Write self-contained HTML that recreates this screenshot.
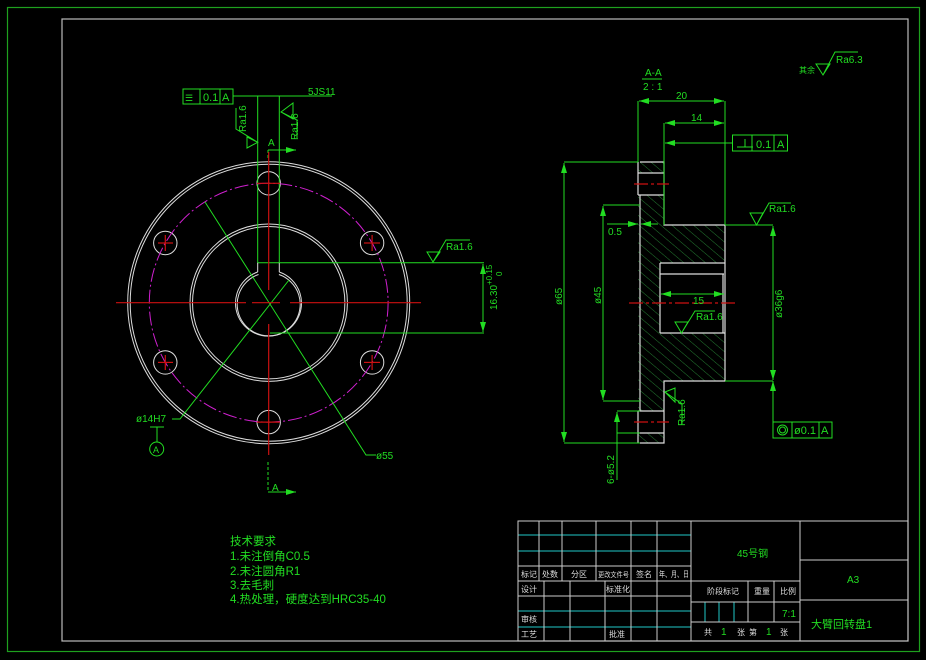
<!DOCTYPE html>
<html><head><meta charset="utf-8"><style>
html,body{margin:0;padding:0;background:#000;}
svg{display:block;}
text{font-family:"Liberation Sans","Noto Sans CJK SC",sans-serif;fill:#22dd22;}
</style></head><body>
<svg width="926" height="660" viewBox="0 0 926 660" xmlns="http://www.w3.org/2000/svg">
<defs>
<pattern id="h" width="7" height="7" patternUnits="userSpaceOnUse" patternTransform="rotate(-50)">
<line x1="0" y1="0" x2="0" y2="7" stroke="#237a30" stroke-width="1"/>
</pattern>
<marker id="a" viewBox="0 0 10 6" refX="10" refY="3" markerWidth="10" markerHeight="6" orient="auto-start-reverse" markerUnits="userSpaceOnUse"><path d="M0,0 L10,3 L0,6z" fill="#22dd22"/></marker>
</defs>
<rect width="926" height="660" fill="#000"/>
<rect x="7.5" y="7.5" width="912" height="644" fill="none" stroke="#1ea01e" stroke-width="1.2"/>
<rect x="62" y="19" width="846" height="622" fill="none" stroke="#bbb" stroke-width="1.2"/>

<g fill="none" stroke="#ddd" stroke-width="1">
<circle cx="268.7" cy="302.7" r="141"/>
<circle cx="268.7" cy="302.7" r="138.5"/>
<circle cx="268.7" cy="302.7" r="78.7"/>
<circle cx="268.7" cy="302.7" r="76.2"/>
<path d="M257.7,272 A33,33 0 1 0 279.3,272"/>
<path d="M258.5,274.5 A31.5,31.5 0 1 0 278.9,274.5"/>
<circle cx="268.7" cy="183.3" r="11.7"/>
<circle cx="268.7" cy="422.1" r="11.7"/>
<circle cx="165.3" cy="243" r="11.7"/>
<circle cx="372.1" cy="243" r="11.7"/>
<circle cx="165.3" cy="362.4" r="11.7"/>
<circle cx="372.1" cy="362.4" r="11.7"/>
</g>
<circle cx="268.7" cy="302.7" r="119.4" fill="none" stroke="#d020d0" stroke-width="1" stroke-dasharray="14,3,2,3"/>
<g stroke="#22dd22" stroke-width="1" fill="none">
<path d="M257.7,96 V262.7 H279.3 V96"/>
<path d="M257.7,262.7 V272 M279.3,262.7 V272" stroke="#ddd"/>
<line x1="279.3" y1="262.7" x2="484" y2="262.7"/>
<line x1="270" y1="333" x2="484" y2="333"/>
<line x1="483" y1="264" x2="483" y2="332" marker-start="url(#a)" marker-end="url(#a)"/>
<rect x="183" y="89" width="50" height="15"/>
<line x1="200" y1="89" x2="200" y2="104"/><line x1="220" y1="89" x2="220" y2="104"/>
<line x1="233" y1="96" x2="332" y2="96"/>
<path d="M172,419 H180 L289,280" />
<path d="M205,202 L366,455 H376"/>
<path d="M150,427 H164 M157,427 V442"/>
<circle cx="156.7" cy="449" r="7"/>
<path d="M427,252 H440 L433,262 Z M433,262 L446,240 H470"/>
<path d="M247,137 L257.7,142.3 L247,148 Z M257.7,142.3 L236,129 V108"/>
<path d="M281,112 L293,103 V119 Z M281,112 L297,120 V138"/>
<path d="M268,150 H296" marker-end="url(#a)"/>
<path d="M268,492 H296" marker-end="url(#a)"/>
<line x1="268" y1="150" x2="268" y2="160" stroke-dasharray="3,2"/>
<line x1="268" y1="462" x2="268" y2="492" stroke-dasharray="3,2"/>
</g>
<g stroke="#cc1111" stroke-width="1.2">
<line x1="116" y1="302.7" x2="246" y2="302.7"/><line x1="252" y1="302.7" x2="280" y2="302.7"/><line x1="290" y1="302.7" x2="421" y2="302.7"/>
<line x1="268.7" y1="152" x2="268.7" y2="290"/><line x1="268.7" y1="324" x2="268.7" y2="455"/>
<line x1="158" y1="243" x2="173" y2="243"/><line x1="165.3" y1="235" x2="165.3" y2="251"/>
<line x1="364" y1="243" x2="380" y2="243"/><line x1="372.1" y1="235" x2="372.1" y2="251"/>
<line x1="158" y1="362.4" x2="173" y2="362.4"/><line x1="165.3" y1="355" x2="165.3" y2="370"/>
<line x1="364" y1="362.4" x2="380" y2="362.4"/><line x1="372.1" y1="355" x2="372.1" y2="370"/>
<line x1="257" y1="183.3" x2="280" y2="183.3"/><line x1="257" y1="422.1" x2="280" y2="422.1"/>
</g>
<g font-size="11">
<text x="185" y="101" font-size="9">☰</text>
<text x="203" y="101">0.1</text><text x="222" y="101">A</text>
<text x="308" y="95" font-size="10">5JS11</text>
<text x="446" y="250" font-size="10">Ra1.6</text>
<text x="268" y="146" font-size="10">A</text>
<text x="272" y="491" font-size="10">A</text>
<text x="136" y="422" font-size="10">ø14H7</text>
<text x="153" y="453" font-size="9">A</text>
<text x="376" y="459" font-size="10">ø55</text>
<text transform="translate(246,132) rotate(-90)" font-size="10">Ra1.6</text>
<text transform="translate(298,140) rotate(-90)" font-size="10">Ra1.6</text>
<text transform="translate(497,310) rotate(-90)" font-size="10">16.30</text>
<text transform="translate(492,285) rotate(-90)" font-size="8">+0.15</text>
<text transform="translate(502,276) rotate(-90)" font-size="8">0</text>
</g>

<path d="M638,162 H664 V225 H725 V381 H664 V443 H638 Z" fill="url(#h)"/>
<rect x="638" y="173" width="26" height="22" fill="#000"/>
<rect x="638" y="411" width="26" height="22" fill="#000"/>
<rect x="660" y="263" width="65" height="70" fill="#000"/>
<g fill="none" stroke="#ddd" stroke-width="1.2">
<path d="M640,162 H664 V225 H725 V381 H664 V443 H640"/>
<path d="M638,162 V195 M640,195 V411 M638,411 V443"/>
<path d="M638,173 H664 M638,195 H664 M638,411 H664 M638,433 H664"/>
<path d="M660,263 H725 M660,333 H725 M660,263 V333 M660,274 H724 M723,274 V333"/>
</g>
<g stroke="#22dd22" stroke-width="1" fill="none">
<path d="M638,101 V162 M725,101 V225 M664,123 V225"/>
<line x1="639" y1="101" x2="724" y2="101" marker-start="url(#a)" marker-end="url(#a)"/>
<line x1="665" y1="123" x2="724" y2="123" marker-start="url(#a)" marker-end="url(#a)"/>
<line x1="732" y1="143" x2="665" y2="143" marker-end="url(#a)"/>
<rect x="732.5" y="135" width="55" height="16"/>
<line x1="752" y1="135" x2="752" y2="151"/><line x1="774" y1="135" x2="774" y2="151"/>
<path d="M737,147 H753 M745,139 V147"/>
<path d="M564,162 H638 M564,443 H640"/>
<line x1="564" y1="163" x2="564" y2="442" marker-start="url(#a)" marker-end="url(#a)"/>
<path d="M603,205 H640 M603,401 H640"/>
<line x1="603" y1="206" x2="603" y2="400" marker-start="url(#a)" marker-end="url(#a)"/>
<path d="M607,224 H630 M650,224 H658"/>
<line x1="629" y1="224" x2="638" y2="224" marker-end="url(#a)"/>
<line x1="650" y1="224" x2="641" y2="224" marker-end="url(#a)"/>
<path d="M725,225 H773 M725,381 H773"/>
<line x1="773" y1="226" x2="773" y2="380" marker-start="url(#a)" marker-end="url(#a)"/>
<line x1="773" y1="381" x2="773" y2="422"/>
<line x1="773" y1="381" x2="773" y2="392" marker-start="url(#a)"/>
<rect x="773" y="422" width="59" height="16"/>
<line x1="792" y1="422" x2="792" y2="438"/><line x1="819" y1="422" x2="819" y2="438"/>
<circle cx="782.5" cy="430" r="5"/><circle cx="782.5" cy="430" r="3"/>
<path d="M750,213 H763 L756.5,225 Z M756.5,225 L769,203 H791"/>
<line x1="661" y1="294" x2="724" y2="294" marker-start="url(#a)" marker-end="url(#a)"/>
<path d="M675,322 H688 L681.5,333 Z M681.5,333 L695,311 H715"/>
<path d="M617,411 H640 M617,433 H640"/>
<line x1="617" y1="480" x2="617" y2="412" marker-end="url(#a)"/>
<path d="M665,392 L675,388 V402 Z M665,392 L682,404 V424"/>
<line x1="642" y1="79" x2="662" y2="79"/>
<path d="M816,64 H830 L823,75 Z M823,75 L835,52 H858"/>
</g>
<g stroke="#cc1111" stroke-width="1.2" stroke-dasharray="14,3,3,3">
<line x1="629" y1="303" x2="738" y2="303"/>
<line x1="634" y1="184" x2="669" y2="184"/>
<line x1="634" y1="422" x2="669" y2="422"/>
</g>
<g font-size="10">
<text x="645" y="76">A-A</text>
<text x="643" y="90">2 : 1</text>
<text x="676" y="99">20</text>
<text x="691" y="121">14</text>
<text x="756" y="148" font-size="11">0.1</text><text x="777" y="148" font-size="11">A</text>
<text x="769" y="212">Ra1.6</text>
<text x="608" y="235">0.5</text>
<text x="693" y="304">15</text>
<text x="696" y="320">Ra1.6</text>
<text x="794" y="434" font-size="11">ø0.1</text><text x="821" y="434" font-size="11">A</text>
<text transform="translate(562,305) rotate(-90)">ø65</text>
<text transform="translate(601,304) rotate(-90)">ø45</text>
<text transform="translate(782,318) rotate(-90)">ø36g6</text>
<text transform="translate(614,484) rotate(-90)">6-ø5.2</text>
<text transform="translate(685,426) rotate(-90)">Ra1.6</text>
<text x="799" y="73" font-size="8">其余</text>
<text x="836" y="63">Ra6.3</text>
</g>

<g font-size="11.5">
<text x="230" y="545">技术要求</text>
<text x="230" y="560">1.未注倒角C0.5</text>
<text x="230" y="575">2.未注圆角R1</text>
<text x="230" y="589">3.去毛刺</text>
<text x="230" y="603">4.热处理，硬度达到HRC35-40</text>
</g>

<g fill="none" stroke-width="1">
<g stroke="#1fc8c8">
<path d="M518,535 H691 M518,551 H691 M518,611 H691 M518,627 H691"/>
<path d="M705,602 V622 M719,602 V622 M734,602 V622"/>
</g>
<g stroke="#ccc">
<rect x="518" y="521" width="390" height="120"/>
<path d="M518,566 H691 M518,581 H800 M518,596 H691"/>
<path d="M539,521 V581 M562,521 V581 M596,521 V581 M631,521 V581 M657,521 V641 M691,521 V641"/>
<path d="M544,581 V641 M570,581 V641 M605,581 V641 M631,581 V641"/>
<path d="M691,602 H800 M691,622 H800 M748,581 V622 M774,581 V622"/>
<path d="M800,521 V641 M800,560 H908 M800,600 H908"/>
</g>
</g>
<g font-size="8">
<text x="521" y="577" style="fill:#ddd">标记</text>
<text x="542" y="577" style="fill:#ddd">处数</text>
<text x="571" y="577" style="fill:#ddd">分区</text>
<text x="598" y="577" style="fill:#ddd" font-size="7" textLength="31" lengthAdjust="spacingAndGlyphs">更改文件号</text>
<text x="636" y="577" style="fill:#ddd">签名</text>
<text x="659" y="577" style="fill:#ddd" textLength="30" lengthAdjust="spacingAndGlyphs">年、月、日</text>
<text x="521" y="592" style="fill:#ddd">设计</text>
<text x="606" y="592" style="fill:#ddd">标准化</text>
<text x="521" y="622" style="fill:#ddd">审核</text>
<text x="521" y="637" style="fill:#ddd">工艺</text>
<text x="609" y="637" style="fill:#ddd">批准</text>
<text x="707" y="594" style="fill:#ddd">阶段标记</text>
<text x="754" y="594" style="fill:#ddd">重量</text>
<text x="780" y="594" style="fill:#ddd">比例</text>
<text x="704" y="635" style="fill:#ddd">共</text>
<text x="737" y="635" style="fill:#ddd">张</text>
<text x="749" y="635" style="fill:#ddd">第</text>
<text x="780" y="635" style="fill:#ddd">张</text>
</g>
<g font-size="10">
<text x="721" y="635">1</text>
<text x="766" y="635">1</text>
<text x="782" y="617">7:1</text>
<text x="737" y="557">45号钢</text>
<text x="847" y="583">A3</text>
<text x="811" y="628" font-size="11">大臂回转盘1</text>
</g>
</svg>
</body></html>
